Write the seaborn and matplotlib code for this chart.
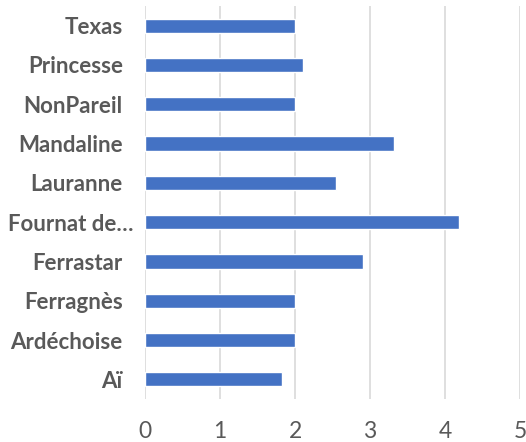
import matplotlib
matplotlib.use("Agg")
import matplotlib.pyplot as plt
import matplotlib.transforms as mtransforms
import seaborn as sns
import pandas as pd

# varieties, top to bottom as drawn
varieties = ["Texas", "Princesse", "NonPareil", "Mandaline", "Lauranne",
             "Fournat de…", "Ferrastar", "Ferragnès", "Ardéchoise", "Aï"]
scores = [2.0, 2.1, 2.0, 3.32, 2.54, 4.19, 2.9, 2.0, 2.0, 1.83]
x_ticks = [0, 1, 2, 3, 4, 5]

df = pd.DataFrame({"variety": varieties, "score": scores})

sns.set_style("white")
plt.rcParams["font.family"] = ["Lato", "DejaVu Sans"]

fig = plt.figure(figsize=(5.26, 4.42), dpi=100)
ax = fig.add_axes([145 / 526, 43 / 442, 375 / 526, 393 / 442])

sns.barplot(data=df, x="score", y="variety", orient="h", color="#4472C4",
            width=0.36, saturation=1, ax=ax)

ax.set_xlim(0, 5)
ax.set_xticks(x_ticks)
ax.set_xticklabels([str(t) for t in x_ticks])
ax.set_xlabel("")
ax.set_ylabel("")
ax.grid(axis="x", color="#D9D9D9", linewidth=1.2)
ax.grid(axis="y", visible=False)
ax.set_axisbelow(True)
for s in ax.spines.values():
    s.set_visible(False)

ax.tick_params(axis="x", length=0, pad=16, labelsize=16.5, labelcolor="#595959")
ax.tick_params(axis="y", length=0, pad=16, labelsize=16, labelcolor="#595959")
for lbl in ax.get_yticklabels():
    lbl.set_fontweight("bold")
    if lbl.get_text().startswith("Fournat"):
        # the truncated label sits a little closer to the bars
        lbl.set_transform(lbl.get_transform() +
                          mtransforms.ScaledTranslation(11 / 100, 0, fig.dpi_scale_trans))

fig.savefig("out.png", dpi=100)
